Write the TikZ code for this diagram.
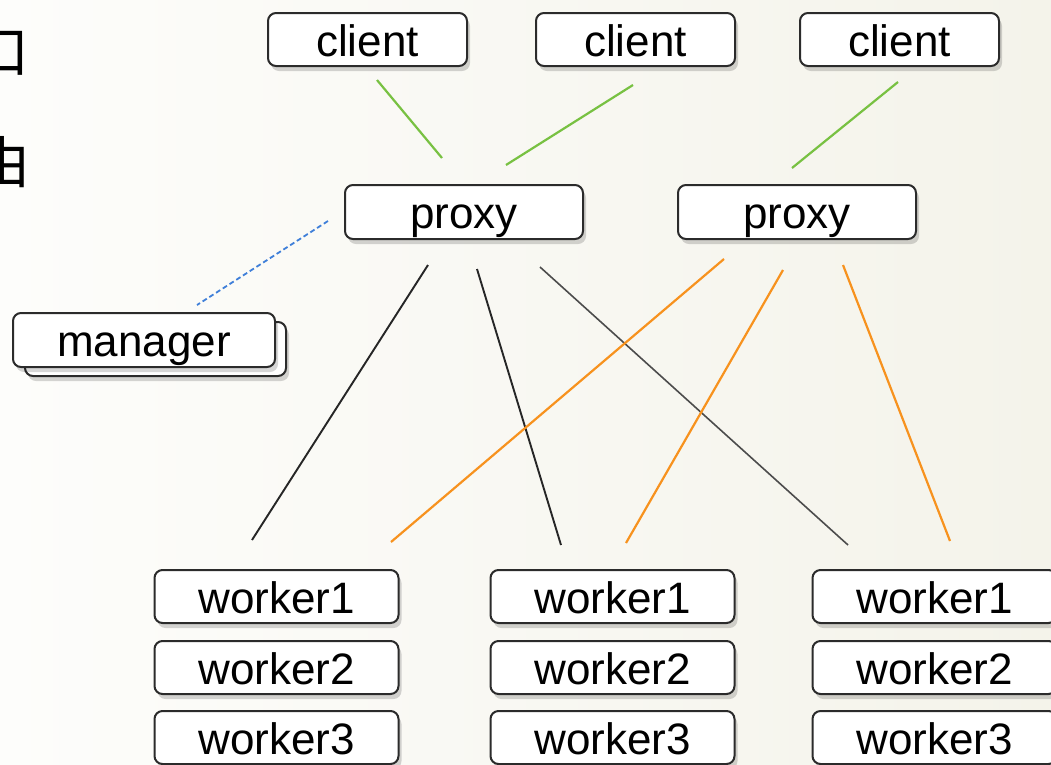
\documentclass[tikz,border=0pt]{standalone}
\usepackage{fontspec}
\setmainfont{Liberation Sans}
\newfontfamily\cjk{Noto Sans CJK SC}
\usetikzlibrary{shadows}
\definecolor{bgL}{HTML}{FDFDFB}
\definecolor{bgR}{HTML}{F4F3EA}
\definecolor{boxline}{HTML}{2B2B2B}
\definecolor{cgreen}{HTML}{78C142}
\definecolor{corange}{HTML}{F7921E}
\definecolor{cblue}{HTML}{3F7FD9}
\definecolor{cdark}{HTML}{262626}
\begin{document}
\begin{tikzpicture}[x=1pt,y=-1pt,
  box/.style={draw=boxline, line width=2pt, fill=white, rounded corners=8pt,
    inner sep=0pt, minimum height=53pt, text height=33pt, text depth=0pt,
    font=\fontsize{44}{44}\selectfont,
    drop shadow={shadow xshift=3pt, shadow yshift=-5pt, opacity=0.16, fill=black}},
  cbox/.style={box, minimum width=199pt},
  pbox/.style={box, minimum width=238pt, minimum height=54pt},
  wbox/.style={box, minimum width=244pt},
  mbox/.style={box, minimum width=262pt, minimum height=54pt},
  cjkchar/.style={inner sep=0pt, font=\cjk\fontsize{56}{56}\selectfont},
  gline/.style={draw=cgreen, line width=2.2pt},
  oline/.style={draw=corange, line width=2.2pt},
  kline/.style={draw=cdark, line width=1.9pt},
  bline/.style={draw=cblue, line width=1.8pt, dash pattern=on 5pt off 3pt}
]
\useasboundingbox (0,0) rectangle (1051,764);
\clip (0,0) rectangle (1051,764);
\shade[left color=bgL, right color=bgR] (0,0) rectangle (1051,764);

% partial characters at the left edge
\node[cjkchar] (ch1) at (2,53) {口};
\node[cjkchar] (ch2) at (3,162) {由};

% clients
\node[cbox] (c1) at (367.5,39.5) {client};
\node[cbox] (c2) at (635.5,39.5) {client};
\node[cbox] (c3) at (899.5,39.5) {client};

% proxies
\node[pbox] (p1) at (464,212) {proxy};
\node[pbox] (p2) at (797,212) {proxy};

% manager (stacked)
\node[mbox, minimum width=261pt] (mback) at (155.5,349) {};
\node[mbox] (m) at (144,340) {manager};

% workers
\foreach \c/\x in {1/276.5, 2/612.5, 3/934.5}{
  \node[wbox] (w\c a) at (\x,596.5) {worker1};
  \node[wbox] (w\c b) at (\x,667.5) {worker2};
  \node[wbox] (w\c c) at (\x,737.5) {worker3};
}

% connector end points
\coordinate (g1s) at (377,80);  \coordinate (g1e) at (442,158);
\coordinate (g2s) at (633,85);  \coordinate (g2e) at (506,165);
\coordinate (g3s) at (898,82);  \coordinate (g3e) at (792,168);
\coordinate (bs) at (328,221);  \coordinate (be) at (197,305);
\coordinate (k1s) at (428,265); \coordinate (k1e) at (252,540);
\coordinate (k2s) at (477,269); \coordinate (k2e) at (561,545);
\coordinate (k3s) at (540,267); \coordinate (k3e) at (848,545);
\coordinate (o1s) at (724,259); \coordinate (o1e) at (391,542);
\coordinate (o2s) at (783,270); \coordinate (o2e) at (626,543);
\coordinate (o3s) at (843,265); \coordinate (o3e) at (950,541);

\draw[gline] (g1s) -- (g1e);
\draw[gline] (g2s) -- (g2e);
\draw[gline] (g3s) -- (g3e);
\draw[bline] (bs) -- (be);
\draw[kline] (k1s) -- (k1e);
\draw[kline] (k2s) -- (k2e);
\draw[kline, draw=black!70, line width=1.6pt] (k3s) -- (k3e);
\draw[oline] (o1s) -- (o1e);
\draw[oline] (o2s) -- (o2e);
\draw[oline] (o3s) -- (o3e);
\end{tikzpicture}
\end{document}
